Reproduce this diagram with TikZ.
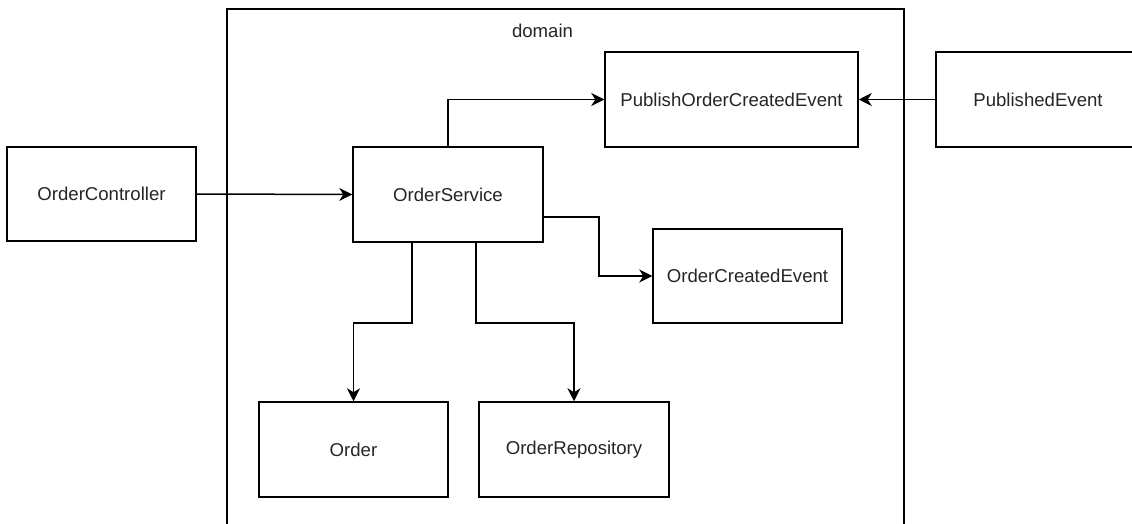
\documentclass[tikz,border=0pt]{standalone}
\usepackage{fontspec}
\setmainfont{Liberation Sans}
\usetikzlibrary{arrows.meta}
\tikzset{
  box/.style={draw=black, line width=1.5pt, fill=white, rectangle,
    inner sep=0pt, text=black!85, font=\fontsize{18.6}{22}\selectfont},
  link/.style={draw=black, line width=1.5pt,
    -{Stealth[length=13pt,width=13pt,inset=4pt]}},
}
\begin{document}
\begin{tikzpicture}[x=1pt,y=-1pt]
  \useasboundingbox (0,0) rectangle (1132,524);
  \clip (0,0) rectangle (1132,524);
  \fill[white] (0,0) rectangle (1132,524);

  % package boundary
  \draw[line width=1.5pt] (227,9) rectangle (904,560);
  \node[font=\fontsize{18.6}{22}\selectfont, text=black!85] (domainlbl) at (542.5,31) {domain};

  % components
  \node[box, minimum width=189pt, minimum height=94pt] (ctrl) at (101.5,194) {OrderController};
  \node[box, minimum width=190pt, minimum height=95pt] (svc) at (448,194.5) {OrderService};
  \node[box, minimum width=253pt, minimum height=95pt] (pub) at (731.5,99.5) {PublishOrderCreatedEvent};
  \node[box, minimum width=204pt, minimum height=95pt] (evt) at (1038,99.5) {PublishedEvent};
  \node[box, minimum width=189pt, minimum height=94pt] (created) at (747.5,276) {OrderCreatedEvent};
  \node[box, minimum width=189pt, minimum height=95pt] (order) at (353.5,449.5) {Order};
  \node[box, minimum width=190pt, minimum height=95pt] (repo) at (574,449.5) {OrderRepository};

  % dependencies
  \draw[link] (ctrl.east) -- (svc.west);
  \draw[link] (svc.north) |- (pub.west);
  \draw[link] (evt.west) -- (pub.east);
  \draw[link] ([yshift=-22.5pt]svc.east) -- ++(55,0) |- (created.west);
  \draw[link] ([xshift=-36pt]svc.south) -- ++(0,80) -| (order.north);
  \draw[link] ([xshift=28pt]svc.south) -- ++(0,80) -| (repo.north);
\end{tikzpicture}
\end{document}
